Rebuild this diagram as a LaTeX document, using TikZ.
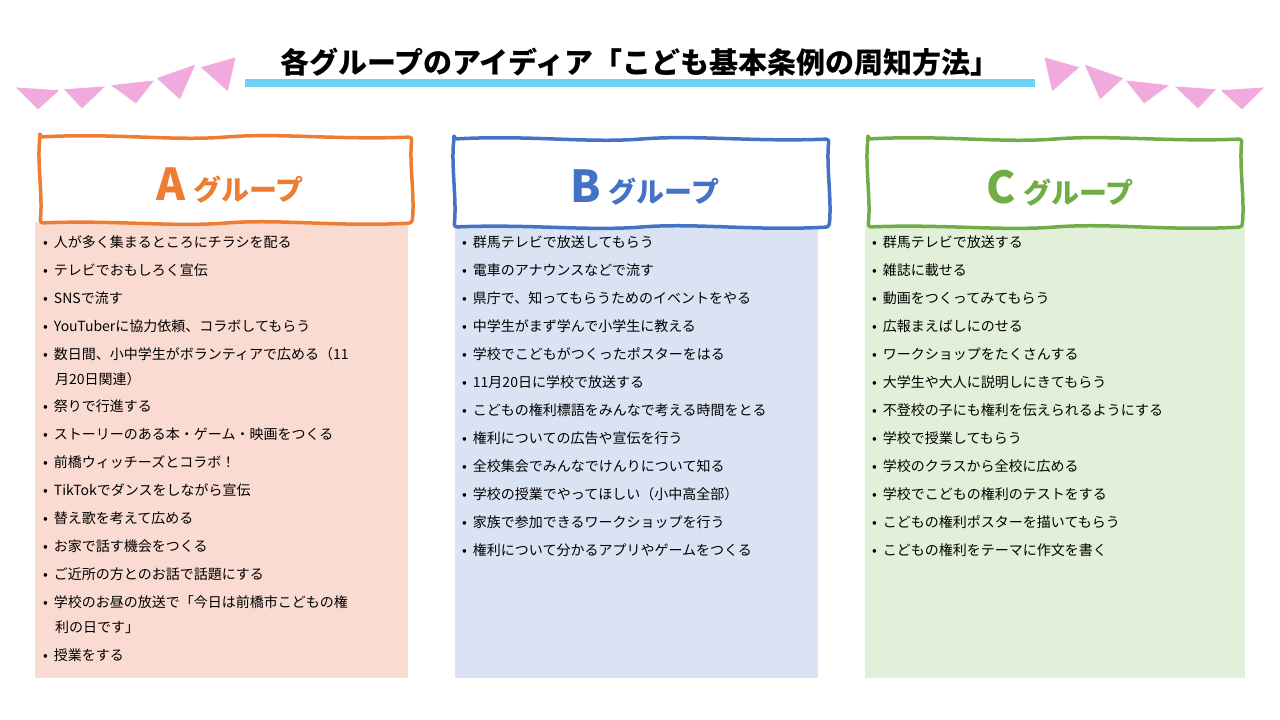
\documentclass[tikz,border=0pt]{standalone}
\usepackage{fontspec}
\setmainfont{Noto Sans CJK JP}
\definecolor{orA}{RGB}{237,125,49}
\definecolor{blB}{RGB}{68,114,196}
\definecolor{grC}{RGB}{112,173,71}
\definecolor{fA}{RGB}{250,219,210}
\definecolor{fB}{RGB}{218,227,243}
\definecolor{fC}{RGB}{226,240,217}
\definecolor{pen}{RGB}{240,170,222}
\definecolor{cy}{RGB}{110,210,245}
\tikzset{
 frame/.style={line width=3.5pt,line join=round,rounded corners=3pt,fill=white},
 item/.style={anchor=west,font=\fontsize{14}{16}\selectfont,inner sep=0pt},
 gtitle/.style={font=\bfseries\fontsize{28}{30}\selectfont},
 pennant/.style={fill=pen,draw=white,line width=0.6pt}
}
\newcommand{\wframe}[5]{% color x1 y1 x2 y2
 \draw[frame,draw=#1] (#2,#3)
  .. controls ($(#2,#3)!0.2!(#4,#3)+(0,-4)$) and ($(#2,#3)!0.35!(#4,#3)+(0,4)$) .. ($(#2,#3)!0.5!(#4,#3)$)
  .. controls ($(#2,#3)!0.65!(#4,#3)+(0,-4)$) and ($(#2,#3)!0.8!(#4,#3)+(0,3)$) .. (#4,#3)
  .. controls ($(#4,#3)!0.3!(#4,#5)+(-3,0)$) and ($(#4,#3)!0.7!(#4,#5)+(3,0)$) .. (#4,#5)
  .. controls ($(#4,#5)!0.2!(#2,#5)+(0,4)$) and ($(#4,#5)!0.35!(#2,#5)+(0,-4)$) .. ($(#4,#5)!0.5!(#2,#5)$)
  .. controls ($(#4,#5)!0.65!(#2,#5)+(0,4)$) and ($(#4,#5)!0.8!(#2,#5)+(0,-3)$) .. (#2,#5)
  .. controls ($(#2,#5)!0.3!(#2,#3)+(3,0)$) and ($(#2,#5)!0.7!(#2,#3)+(-3,0)$) .. cycle;}
\usetikzlibrary{calc}
\begin{document}
\begin{tikzpicture}[x=1pt,y=-1pt]
\useasboundingbox (0,0) rectangle (1280,720);
\fill[white] (0,0) rectangle (1280,720);
% title
\fill[cy] (245,79) rectangle (1035,87);
\node[font=\fontsize{29}{31}\selectfont,inner sep=0pt] (title) at (640,62) {\bfseries 各グループのアイディア「こども基本条例の周知方法」};
% pennants
\foreach \s/\o in {1/0,-1/1280}{
 \begin{scope}[xshift=\o pt,x=\s pt]
 \filldraw[pennant] (15,87)--(60,90)--(38,110)--cycle;
 \filldraw[pennant] (63,89)--(106,86)--(82,109)--cycle;
 \filldraw[pennant] (110,85)--(155,80)--(136,104)--cycle;
 \filldraw[pennant] (156,78)--(196,64)--(180,100)--cycle;
 \filldraw[pennant] (200,67)--(236,57)--(228,92)--cycle;
 \end{scope}}
% panels
\fill[fA] (35,222) rectangle (408,678);
\fill[fB] (455,225) rectangle (818,678);
\fill[fC] (865,225) rectangle (1245,678);
\wframe{orA}{40}{137}{412}{223}
\wframe{blB}{454}{139}{829}{227}
\wframe{grC}{868}{139}{1242}{227}
\node[gtitle,text=orA] (ta) at (230,186) {\fontsize{44}{46}\selectfont A\,\fontsize{28}{30}\selectfont グループ};
\node[gtitle,text=blB] (tb) at (645,188) {\fontsize{44}{46}\selectfont B\,\fontsize{28}{30}\selectfont グループ};
\node[gtitle,text=grC] (tc) at (1060,188) {\fontsize{44}{46}\selectfont C\,\fontsize{28}{30}\selectfont グループ};
% A items
\foreach \y/\t [count=\i] in {242/人が多く集まるところにチラシを配る,270/テレビでおもしろく宣伝,298/SNSで流す,326/YouTuberに協力依頼、コラボしてもらう,354/数日間、小中学生がボランティアで広める（11,406/祭りで行進する,434/ストーリーのある本・ゲーム・映画をつくる,462/前橋ウィッチーズとコラボ！,490/TikTokでダンスをしながら宣伝,518/替え歌を考えて広める,546/お家で話す機会をつくる,574/ご近所の方とのお話で話題にする,602/学校のお昼の放送で「今日は前橋市こどもの権,655/授業をする}
 {\node[item] (a\i) at (43,\y) {•\hspace{6pt}\t};}
\node[item] (a5b) at (55,379) {月20日関連）};
\node[item] (a13b) at (55,627) {利の日です」};
% B items
\foreach \y/\t [count=\i] in {242/群馬テレビで放送してもらう,270/電車のアナウンスなどで流す,298/県庁で、知ってもらうためのイベントをやる,326/中学生がまず学んで小学生に教える,354/学校でこどもがつくったポスターをはる,382/11月20日に学校で放送する,410/こどもの権利標語をみんなで考える時間をとる,438/権利についての広告や宣伝を行う,466/全校集会でみんなでけんりについて知る,494/学校の授業でやってほしい（小中高全部）,522/家族で参加できるワークショップを行う,550/権利について分かるアプリやゲームをつくる}
 {\node[item] (b\i) at (462,\y) {•\hspace{6pt}\t};}
% C items
\foreach \y/\t [count=\i] in {242/群馬テレビで放送する,270/雑誌に載せる,298/動画をつくってみてもらう,326/広報まえばしにのせる,354/ワークショップをたくさんする,382/大学生や大人に説明しにきてもらう,410/不登校の子にも権利を伝えられるようにする,438/学校で授業してもらう,466/学校のクラスから全校に広める,494/学校でこどもの権利のテストをする,522/こどもの権利ポスターを描いてもらう,550/こどもの権利をテーマに作文を書く}
 {\node[item] (c\i) at (872,\y) {•\hspace{6pt}\t};}
\end{tikzpicture}
\end{document}
